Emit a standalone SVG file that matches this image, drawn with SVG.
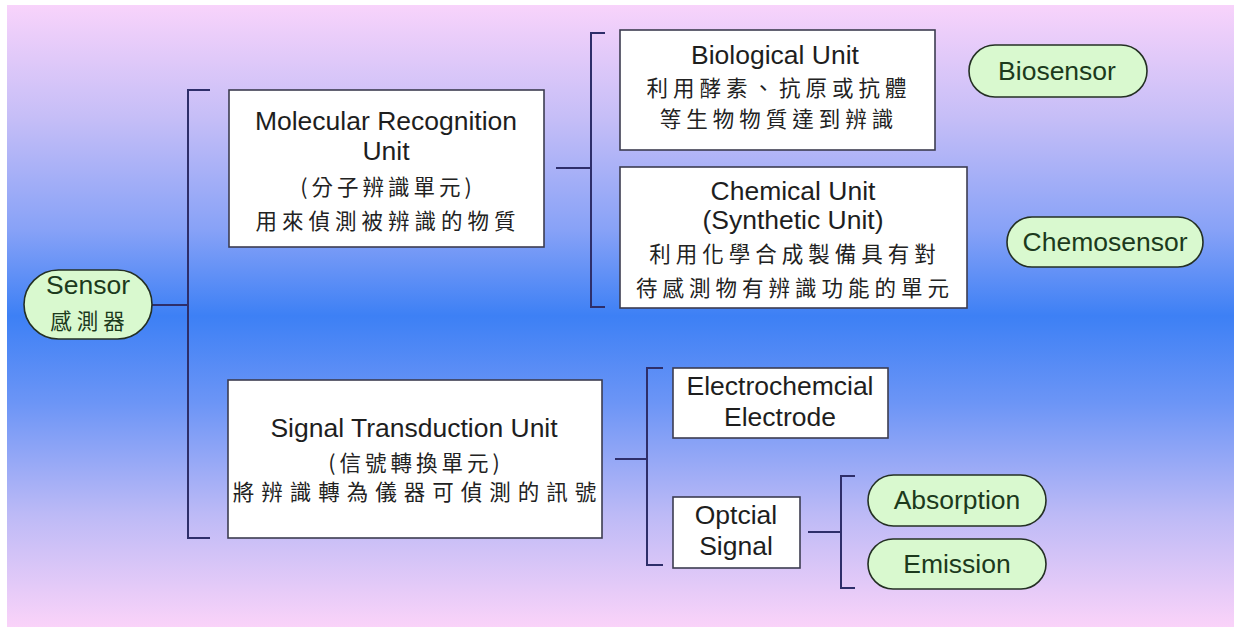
<svg xmlns="http://www.w3.org/2000/svg" width="1234" height="627" viewBox="0 0 1234 627">
  <defs>
    <linearGradient id="bg" x1="0" y1="0" x2="0" y2="1">
      <stop offset="0" stop-color="#f8d3fb"/>
      <stop offset="0.18" stop-color="#c6bef7"/>
      <stop offset="0.36" stop-color="#88a2f7"/>
      <stop offset="0.5" stop-color="#3d80f5"/>
      <stop offset="0.64" stop-color="#6c95f6"/>
      <stop offset="0.82" stop-color="#bdbaf6"/>
      <stop offset="1" stop-color="#fad3f9"/>
    </linearGradient>
    <style>
      .box { fill: #ffffff; stroke: #3c3c50; stroke-width: 1.6; }
      .pill { fill: #d9f9cf; stroke: #243024; stroke-width: 1.6; }
      .wire { fill: none; stroke: #2e2e6a; stroke-width: 2; }
      .en { font-family: "Liberation Sans", Arial, sans-serif; font-size: 26.5px; fill: #1e1e1e; text-anchor: middle; }
      .zh { font-family: "Noto Sans CJK TC", "Noto Sans CJK SC", sans-serif; font-size: 21.5px; fill: #222222; text-anchor: middle; }
      .pt { fill: #1c3a1c; }
    </style>
  </defs>

  <rect x="0" y="0" width="1234" height="627" fill="#ffffff"/>
  <rect x="7" y="5" width="1227" height="622" fill="url(#bg)"/>

  <!-- connectors: trunk lines and brackets -->
  <g id="connectors">
    <path class="wire" d="M152,305 H188"/>
    <path class="wire" d="M210,90 H188 V538 H210"/>
    <path class="wire" d="M556,168 H591"/>
    <path class="wire" d="M605,33 H591 V307 H605"/>
    <path class="wire" d="M615,459 H647"/>
    <path class="wire" d="M663,368 H647 V565 H663"/>
    <path class="wire" d="M808,532 H841"/>
    <path class="wire" d="M855,476 H841 V588 H855"/>
  </g>

  <g id="sensor">
    <rect class="pill" x="24" y="270" width="128" height="69" rx="34.5"/>
    <text class="en pt" x="88" y="294">Sensor</text>
    <text class="zh pt" x="90" y="329" letter-spacing="5">感測器</text>
  </g>

  <g id="molecular-recognition">
    <rect class="box" x="229" y="90" width="315" height="157"/>
    <text class="en" x="386" y="130">Molecular Recognition</text>
    <text class="en" x="386" y="160">Unit</text>
    <text class="zh" x="388" y="195" letter-spacing="4">(分子辨識單元)</text>
    <text class="zh" x="388" y="229" letter-spacing="5">用來偵測被辨識的物質</text>
  </g>

  <g id="biological-unit">
    <rect class="box" x="620" y="30" width="315" height="120"/>
    <text class="en" x="775" y="64">Biological Unit</text>
    <text class="zh" x="779" y="96" letter-spacing="5">利用酵素、抗原或抗體</text>
    <text class="zh" x="779" y="127" letter-spacing="5">等生物物質達到辨識</text>
  </g>

  <g id="chemical-unit">
    <rect class="box" x="620" y="167" width="347" height="141"/>
    <text class="en" x="793" y="200">Chemical Unit</text>
    <text class="en" x="793" y="229">(Synthetic Unit)</text>
    <text class="zh" x="795" y="262" letter-spacing="5">利用化學合成製備具有對</text>
    <text class="zh" x="795" y="296" letter-spacing="5">待感測物有辨識功能的單元</text>
  </g>

  <g id="biosensor">
    <rect class="pill" x="969" y="45" width="178" height="52" rx="26"/>
    <text class="en pt" x="1057" y="80">Biosensor</text>
  </g>

  <g id="chemosensor">
    <rect class="pill" x="1007" y="217" width="196" height="50" rx="25"/>
    <text class="en pt" x="1105" y="251">Chemosensor</text>
  </g>

  <g id="signal-transduction">
    <rect class="box" x="228" y="380" width="374" height="158"/>
    <text class="en" x="414" y="437">Signal Transduction Unit</text>
    <text class="zh" x="416" y="471" letter-spacing="4">(信號轉換單元)</text>
    <text class="zh" x="418" y="500" letter-spacing="7">將辨識轉為儀器可偵測的訊號</text>
  </g>

  <g id="electrochemical-electrode">
    <rect class="box" x="673" y="368" width="215" height="70"/>
    <text class="en" x="780" y="395">Electrochemcial</text>
    <text class="en" x="780" y="426">Electrode</text>
  </g>

  <g id="optical-signal">
    <rect class="box" x="673" y="497" width="127" height="71"/>
    <text class="en" x="736" y="524">Optcial</text>
    <text class="en" x="736" y="555">Signal</text>
  </g>

  <g id="absorption">
    <rect class="pill" x="868" y="475" width="178" height="51" rx="25.5"/>
    <text class="en pt" x="957" y="509">Absorption</text>
  </g>

  <g id="emission">
    <rect class="pill" x="868" y="539" width="178" height="50" rx="25"/>
    <text class="en pt" x="957" y="573">Emission</text>
  </g>
</svg>
